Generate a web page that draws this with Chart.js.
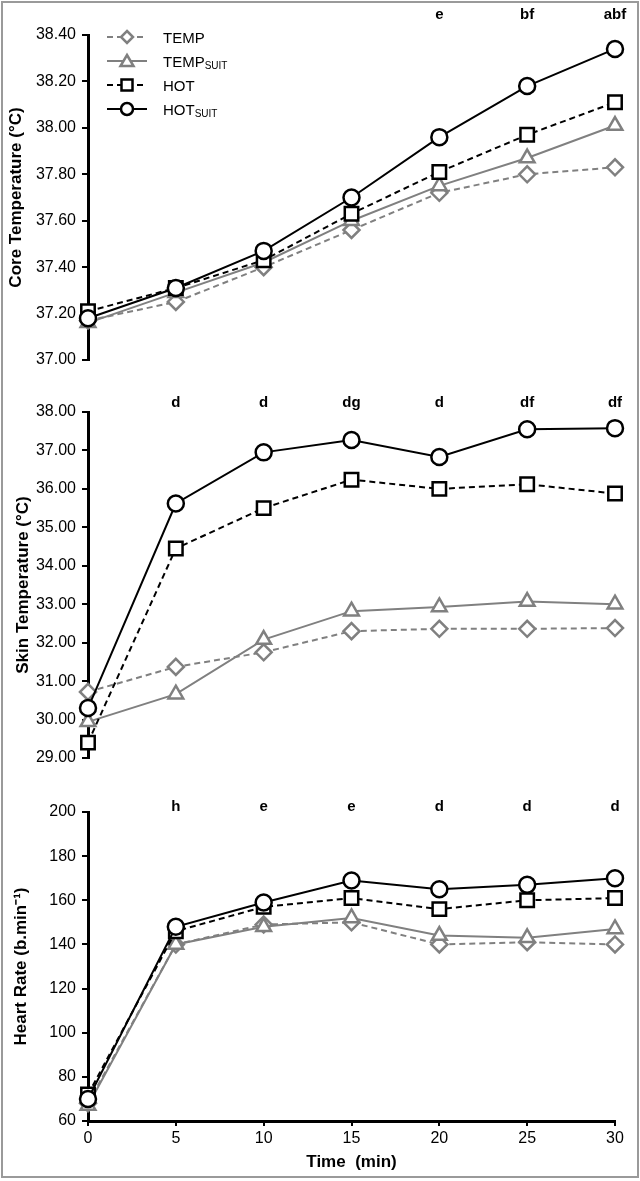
<!DOCTYPE html>
<html>
<head>
<meta charset="utf-8">
<script src="https://cdn.jsdelivr.net/npm/chart.js@4.4.0/dist/chart.umd.min.js"></script>
<style>
  body { margin: 0; background: #fff; }
  #fig { position: relative; width: 640px; height: 1181px; font-family: "Liberation Sans", Arial, sans-serif; }
  #frame { position: absolute; left: 1px; top: 1px; width: 638px; height: 1177px; box-sizing: border-box; border: 2px solid #9a9a9a; }
  canvas { position: absolute; left: 0; }
  #legend { position: absolute; left: 105px; top: 25px; font-size: 15px; color: #000; }
  .row { display: flex; align-items: center; height: 24px; }
  .row svg { margin-right: 14px; }
  .row sub { font-size: 10px; vertical-align: baseline; position: relative; top: 2px; }
</style>
</head>
<body>
<div id="fig">
  <div id="frame"></div>
  <canvas id="coreChart" width="640" height="380" style="top:0px"></canvas>
  <canvas id="skinChart" width="640" height="400" style="top:380px"></canvas>
  <canvas id="hrChart" width="640" height="401" style="top:780px"></canvas>
  <div id="legend">
    <div class="row">
      <svg width="44" height="20"><line x1="2" y1="10" x2="42" y2="10" stroke="#808080" stroke-width="2" stroke-dasharray="6,4"/><polygon points="22,4 28,10 22,16 16,10" fill="#fff" stroke="#808080" stroke-width="2.5"/></svg>
      <span>TEMP</span>
    </div>
    <div class="row">
      <svg width="44" height="20"><line x1="2" y1="10" x2="42" y2="10" stroke="#808080" stroke-width="2"/><polygon points="22,4 28.5,15 15.5,15" fill="#fff" stroke="#808080" stroke-width="2.5"/></svg>
      <span>TEMP<sub>SUIT</sub></span>
    </div>
    <div class="row">
      <svg width="44" height="20"><line x1="2" y1="10" x2="42" y2="10" stroke="#000" stroke-width="2" stroke-dasharray="6,4"/><rect x="16.5" y="4.5" width="11" height="11" fill="#fff" stroke="#000" stroke-width="2.5"/></svg>
      <span>HOT</span>
    </div>
    <div class="row">
      <svg width="44" height="20"><line x1="2" y1="10" x2="42" y2="10" stroke="#000" stroke-width="2"/><circle cx="22" cy="10" r="6" fill="#fff" stroke="#000" stroke-width="2.5"/></svg>
      <span>HOT<sub>SUIT</sub></span>
    </div>
  </div>
</div>
<script>
const times = [0, 5, 10, 15, 20, 25, 30];

// core temperature (°C)
const coreTemp     = [37.17, 37.25, 37.40, 37.56, 37.72, 37.80, 37.83];
const coreTempSuit = [37.16, 37.29, 37.42, 37.60, 37.75, 37.87, 38.01];
const coreHot      = [37.21, 37.31, 37.43, 37.63, 37.81, 37.97, 38.11];
const coreHotSuit  = [37.18, 37.31, 37.47, 37.70, 37.96, 38.18, 38.34];
const coreLetters  = ['', '', '', '', 'e', 'bf', 'abf'];

// skin temperature (°C)
const skinTemp     = [30.72, 31.37, 31.75, 32.30, 32.36, 32.36, 32.38];
const skinTempSuit = [29.94, 30.66, 32.08, 32.82, 32.93, 33.07, 33.00];
const skinHot      = [29.40, 34.45, 35.50, 36.24, 36.00, 36.12, 35.88];
const skinHotSuit  = [30.30, 35.62, 36.95, 37.27, 36.83, 37.55, 37.58];
const skinLetters  = ['', 'd', 'd', 'dg', 'd', 'df', 'df'];

// heart rate (b.min-1)
const hrTemp       = [68, 140, 149, 150, 140, 141, 140];
const hrTempSuit   = [67, 140, 148, 152, 144, 143, 147];
const hrHot        = [72, 146, 157, 161, 156, 160, 161];
const hrHotSuit    = [70, 148, 159, 169, 165, 167, 170];
const hrLetters    = ['', 'h', 'e', 'e', 'd', 'd', 'd'];

const FONT = '"Liberation Sans", Arial, sans-serif';
const GREY = '#808080';

// significance letters above each time point
const lettersPlugin = {
  id: 'letters',
  afterDatasetsDraw(chart, args, opts) {
    const { ctx, scales: { x } } = chart;
    ctx.save();
    ctx.font = 'bold 15px ' + FONT;
    ctx.fillStyle = '#000';
    ctx.textAlign = 'center';
    ctx.textBaseline = 'middle';
    opts.labels.forEach((t, i) => {
      if (t) ctx.fillText(t, x.getPixelForValue(times[i]), opts.y);
    });
    ctx.restore();
  }
};

function makeSets(temp, tempSuit, hot, hotSuit) {
  const pts = arr => arr.map((v, i) => ({ x: times[i], y: v }));
  const base = { pointBackgroundColor: '#fff', clip: false, tension: 0 };
  return [
    { ...base, label: 'HOT SUIT', data: pts(hotSuit), borderColor: '#000', borderWidth: 2,
      pointStyle: 'circle', pointRadius: 8, pointBorderColor: '#000', pointBorderWidth: 2.5, order: 1 },
    { ...base, label: 'HOT', data: pts(hot), borderColor: '#000', borderWidth: 2, borderDash: [6, 4],
      pointStyle: 'rect', pointRadius: 9.5, pointBorderColor: '#000', pointBorderWidth: 2.5, order: 2 },
    { ...base, label: 'TEMP SUIT', data: pts(tempSuit), borderColor: GREY, borderWidth: 2,
      pointStyle: 'triangle', pointRadius: 8.5, pointBorderColor: GREY, pointBorderWidth: 2.5, order: 3 },
    { ...base, label: 'TEMP', data: pts(temp), borderColor: GREY, borderWidth: 2, borderDash: [6, 4],
      pointStyle: 'rectRot', pointRadius: 8, pointBorderColor: GREY, pointBorderWidth: 2.5, order: 4 }
  ];
}

function yAxis(min, max, step, digits, title, titlePad) {
  return {
    type: 'linear', min: min, max: max,
    afterFit: s => { s.width = 88; },
    border: { color: '#000', width: 3 },
    grid: { drawOnChartArea: false, color: '#000', lineWidth: 2, tickLength: 6 },
    ticks: { stepSize: step, color: '#000', padding: 6, font: { family: FONT, size: 16 },
      callback: v => v.toFixed(digits) },
    title: { display: true, text: title, color: '#000', padding: { top: titlePad, bottom: 0 },
      font: { family: FONT, size: 17, weight: 'bold' } }
  };
}

function makeChart(id, sets, y, letters, letterY, showX, padding) {
  const x = showX ? {
    type: 'linear', min: 0, max: 30,
    afterFit: s => { s.height = 52; },
    border: { color: '#000', width: 3 },
    grid: { drawOnChartArea: false, color: '#000', lineWidth: 2, tickLength: 5 },
    ticks: { stepSize: 5, color: '#000', padding: 3, font: { family: FONT, size: 16 } },
    title: { display: true, text: 'Time  (min)', color: '#000', padding: { top: 0, bottom: 0 },
      font: { family: FONT, size: 17, weight: 'bold' } }
  } : { type: 'linear', min: 0, max: 30, display: false };

  return new Chart(document.getElementById(id), {
    type: 'line',
    data: { datasets: sets },
    options: {
      responsive: false,
      animation: false,
      layout: { padding: padding },
      scales: { x: x, y: y },
      plugins: {
        legend: { display: false },
        tooltip: { enabled: false },
        letters: { labels: letters, y: letterY }
      }
    },
    plugins: [lettersPlugin]
  });
}

makeChart('coreChart', makeSets(coreTemp, coreTempSuit, coreHot, coreHotSuit),
  yAxis(37, 38.4, 0.2, 2, 'Core Temperature (°C)', 6), coreLetters, 15, false,
  { left: 0, right: 25, top: 35, bottom: 20 });

makeChart('skinChart', makeSets(skinTemp, skinTempSuit, skinHot, skinHotSuit),
  yAxis(29, 38, 1, 2, 'Skin Temperature (°C)', 13), skinLetters, 23, false,
  { left: 0, right: 25, top: 32, bottom: 22 });

makeChart('hrChart', makeSets(hrTemp, hrTempSuit, hrHot, hrHotSuit),
  yAxis(60, 200, 20, 0, 'Heart Rate (b.min⁻¹)', 11), hrLetters, 27, true,
  { left: 0, right: 25, top: 32, bottom: 8 });
</script>
</body>
</html>
